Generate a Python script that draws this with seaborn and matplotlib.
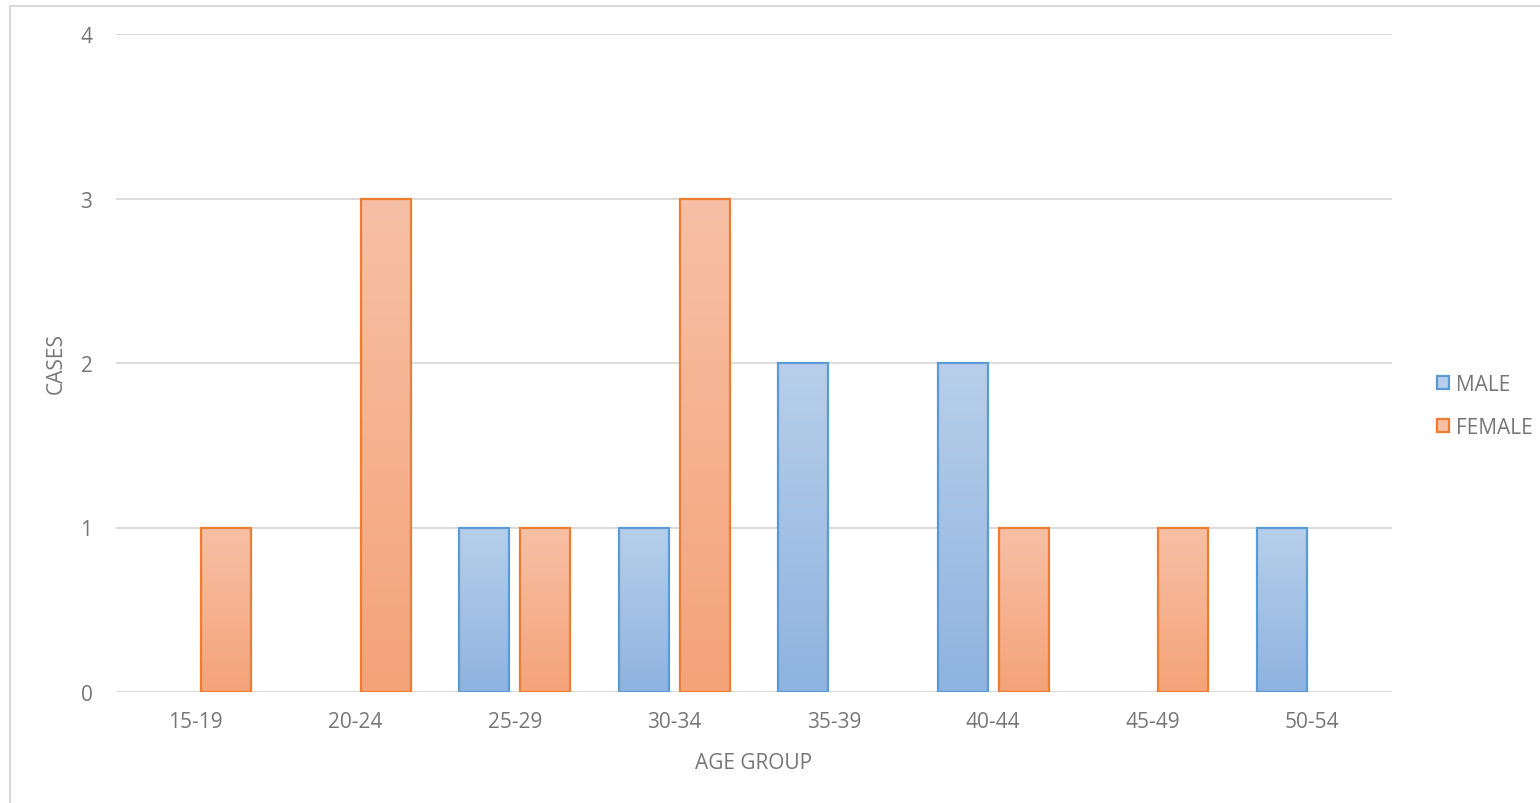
import numpy as np
import pandas as pd
import matplotlib
matplotlib.use("Agg")
import matplotlib.pyplot as plt
from matplotlib.patches import Patch, Rectangle
from matplotlib.colors import LinearSegmentedColormap
import seaborn as sns

# Cases by age group and sex
age_groups = ["15-19", "20-24", "25-29", "30-34", "35-39", "40-44", "45-49", "50-54"]
male_cases = [0, 0, 1, 1, 2, 2, 0, 1]
female_cases = [1, 3, 1, 3, 0, 1, 1, 0]
sexes = ["MALE", "FEMALE"]

df = pd.DataFrame({
    "AGE GROUP": age_groups * 2,
    "CASES": male_cases + female_cases,
    "SEX": ["MALE"] * len(age_groups) + ["FEMALE"] * len(age_groups),
})

edge_colors = {"MALE": "#5B9BD5", "FEMALE": "#ED7D31"}
grad_top = {"MALE": "#B7CFEA", "FEMALE": "#F7C0A6"}
grad_bottom = {"MALE": "#8EB3E0", "FEMALE": "#F4A378"}
text_color = "#767676"
fs = 15

sns.set_theme(style="white")
plt.rcParams["font.family"] = ["Open Sans", "DejaVu Sans"]

fig = plt.figure(figsize=(15.4, 8.04), dpi=100)
ax = fig.add_axes([116 / 1540, 1 - 693 / 804, (1392 - 116) / 1540, (693 - 35) / 804])

sns.barplot(
    data=df, x="AGE GROUP", y="CASES", hue="SEX", order=age_groups,
    hue_order=sexes, palette=edge_colors, width=0.76, gap=0.176,
    errorbar=None, legend=False, ax=ax,
)

# Vertical gradient fill inside each bar, clipped to the bar outline
n = len(age_groups)
for i, patch in enumerate(ax.patches):
    sex = sexes[i // n]
    h = patch.get_height()
    if h <= 0:
        patch.set_visible(False)
        continue
    cmap = LinearSegmentedColormap.from_list(sex, [grad_bottom[sex], grad_top[sex]])
    x0 = patch.get_x()
    w = patch.get_width()
    grad = np.linspace(0, 1, 256).reshape(-1, 1)
    im = ax.imshow(grad, cmap=cmap, aspect="auto", origin="lower",
                   extent=(x0, x0 + w, 0, h), zorder=1.5, interpolation="bilinear")
    im.set_clip_path(patch)
    patch.set_facecolor("none")
    patch.set_edgecolor(edge_colors[sex])
    patch.set_linewidth(1.6)
    patch.set_zorder(2)

ax.set_xlim(-0.5, n - 0.5)
ax.set_ylim(0, 4)
ax.set_yticks([0, 1, 2, 3, 4])
ax.yaxis.grid(True, color="#D9D9D9", linewidth=1.3)
ax.set_axisbelow(True)
for s in ax.spines.values():
    s.set_visible(False)
ax.tick_params(axis="both", length=0, labelsize=fs, labelcolor=text_color)
ax.tick_params(axis="x", pad=14)
ax.tick_params(axis="y", pad=17)
ax.set_xlabel("AGE GROUP", fontsize=fs, color=text_color, labelpad=14)
ax.set_ylabel("CASES", fontsize=fs, color=text_color, labelpad=10)

# Legend on the right
handles = [Patch(facecolor=grad_top[s], edgecolor=edge_colors[s], linewidth=1.6, label=s)
           for s in sexes]
fig.legend(handles=handles, loc="center left", bbox_to_anchor=(1429 / 1540, 1 - 407 / 804),
           frameon=False, fontsize=fs, labelcolor=text_color, handlelength=0.55,
           handleheight=0.55, handletextpad=0.35, labelspacing=1.05, borderaxespad=0)

# Chart area border
fig.patches.append(Rectangle((10 / 1540, -0.05), 1.1, 1 - 7 / 804 + 0.05,
                             transform=fig.transFigure, fill=False,
                             edgecolor="#D9D9D9", linewidth=1.5))

fig.savefig("out.png", dpi=100)
